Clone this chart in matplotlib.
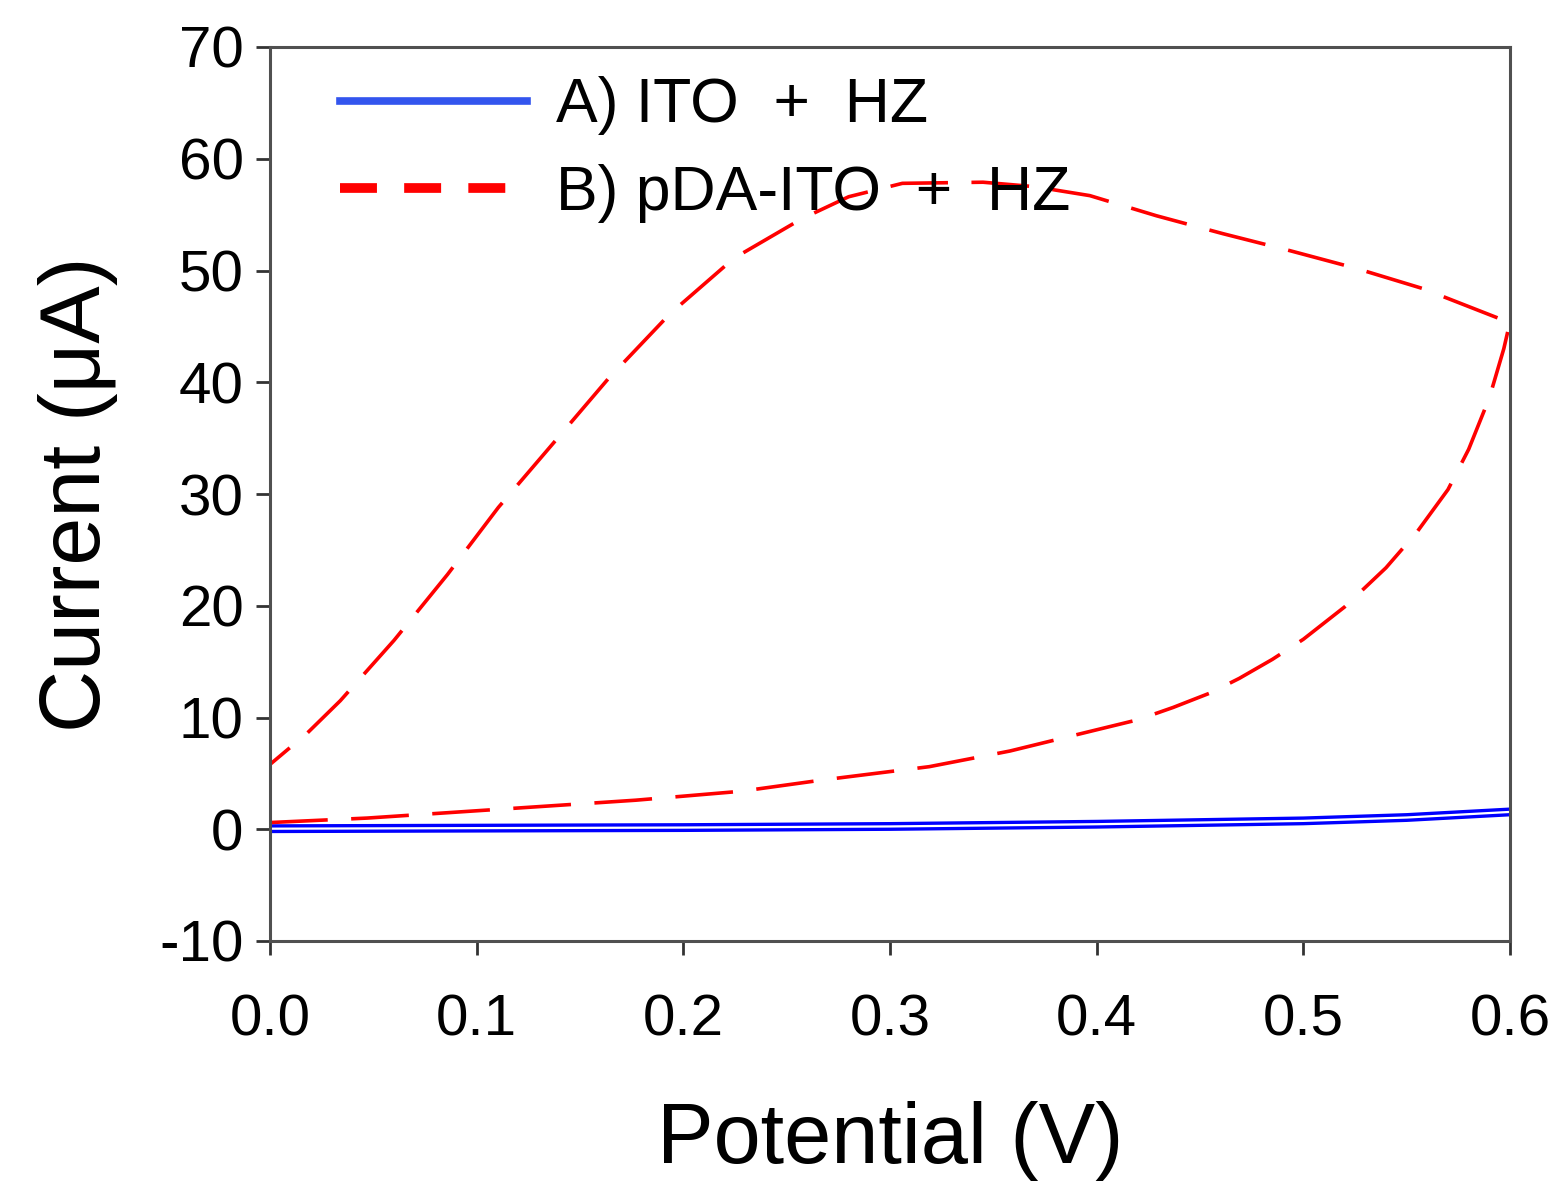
import matplotlib
matplotlib.use("Agg")
import matplotlib.pyplot as plt
from matplotlib.lines import Line2D
from matplotlib import font_manager

# ---------------- data ----------------
# pDA-ITO + HZ : forward (lower) branch
red_fwd_v = [0.0, 0.047, 0.12, 0.177, 0.228, 0.267, 0.319, 0.358, 0.40, 0.42, 0.437, 0.455,
             0.469, 0.485, 0.50, 0.52, 0.54, 0.555, 0.57, 0.58, 0.59, 0.597, 0.6]
red_fwd_i = [0.6, 1.0, 1.9, 2.6, 3.4, 4.4, 5.6, 7.0, 8.9, 9.8, 10.9, 12.2,
             13.5, 15.2, 17.0, 19.9, 23.4, 26.6, 30.4, 34.0, 38.6, 43.0, 45.4]
# pDA-ITO + HZ : reverse (upper) branch
red_rev_v = [0.6, 0.5976, 0.5575, 0.5254, 0.493, 0.461, 0.4289, 0.3967, 0.37, 0.345,
             0.306, 0.280, 0.257, 0.2245, 0.1934, 0.1636, 0.1364, 0.1105, 0.0859,
             0.060, 0.034, 0.018, 0.0]
red_rev_i = [45.4, 45.5, 48.4, 50.2, 51.8, 53.3, 54.9, 56.7, 57.5, 57.9,
             57.8, 56.6, 54.6, 51.1, 46.1, 40.3, 34.4, 28.8, 22.8,
             16.9, 11.5, 8.6, 5.8]
# ITO + HZ
blue_fwd_v = [0.0, 0.1, 0.2, 0.3, 0.4, 0.5, 0.55, 0.6]
blue_fwd_i = [-0.2, -0.15, -0.1, 0.0, 0.2, 0.5, 0.8, 1.3]
blue_rev_v = [0.6, 0.55, 0.5, 0.4, 0.3, 0.2, 0.1, 0.0]
blue_rev_i = [1.8, 1.3, 1.0, 0.7, 0.5, 0.4, 0.35, 0.3]

x_ticks = [0.0, 0.1, 0.2, 0.3, 0.4, 0.5, 0.6]
y_ticks = [-10, 0, 10, 20, 30, 40, 50, 60, 70]
labels = ["A) ITO  +  HZ", "B) pDA-ITO  +  HZ"]

# ---------------- style ----------------
avail = {f.name for f in font_manager.fontManager.ttflist}
base_font = "Liberation Sans" if "Liberation Sans" in avail else "DejaVu Sans"
plt.rcParams["font.family"] = [base_font, "DejaVu Sans"]

fig = plt.figure(figsize=(15.64, 11.93), dpi=100)
ax = fig.add_axes([270 / 1564, 1 - 941 / 1193, 1240 / 1564, 894 / 1193])

blue = "#0000ff"
red = "#ff0000"
ax.plot(blue_fwd_v, blue_fwd_i, color=blue, lw=2.4)
ax.plot(blue_rev_v, blue_rev_i, color=blue, lw=2.4)
red_v = red_fwd_v + red_rev_v
red_i = red_fwd_i + red_rev_i
ln, = ax.plot(red_v, red_i, color=red, lw=2.6)
ln.set_dashes([16, 6.5])

ax.set_xlim(0, 0.6)
ax.set_ylim(-10, 70)
ax.set_xticks(x_ticks)
ax.set_xticklabels([f"{v:.1f}" for v in x_ticks])
ax.set_yticks(y_ticks)
ax.set_yticklabels([str(v) for v in y_ticks])
ax.tick_params(direction="out", length=10, width=2, color="#333333", labelsize=42)
ax.tick_params(axis="x", pad=28)
ax.tick_params(axis="y", pad=9)
for s in ax.spines.values():
    s.set_linewidth(2.2)
    s.set_color("#505050")

ax.set_xlabel("Potential (V)", fontsize=61, labelpad=38)
ax.set_ylabel("Current (μA)", fontsize=62, labelpad=30)

handles = [Line2D([], [], color="#3355ee", lw=5.5),
           Line2D([], [], color=red, lw=7, dashes=[3.8, 2.8])]
leg = ax.legend(handles, labels, loc="upper left", bbox_to_anchor=(0.011, 1.03),
                frameon=False, handlelength=3.0, handletextpad=0.45,
                labelspacing=0.45, prop={"family": [base_font, "DejaVu Sans"], "size": 45})

fig.savefig("out.png", dpi=100, facecolor="white")
